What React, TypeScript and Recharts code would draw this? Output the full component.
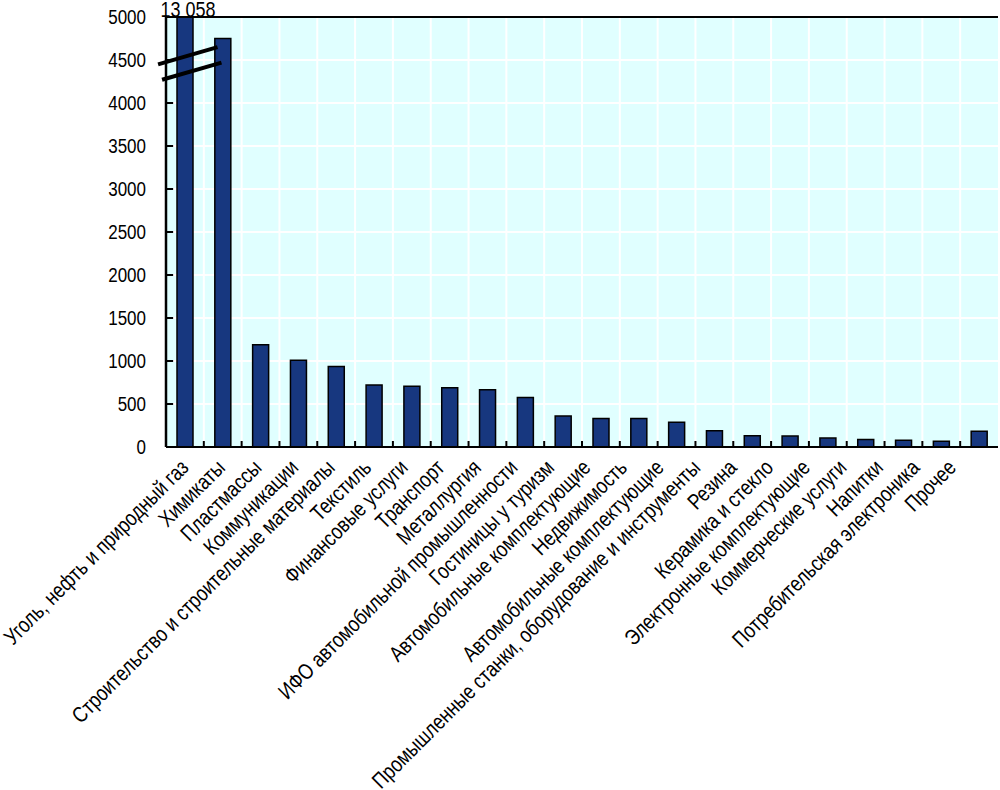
import React from "react";
import {
  BarChart,
  Bar,
  XAxis,
  YAxis,
  CartesianGrid,
  ReferenceLine,
  LabelList,
} from "recharts";

const categories = [
  "Уголь, нефть и природный газ",
  "Химикаты",
  "Пластмассы",
  "Коммуникации",
  "Строительство и строительные материалы",
  "Текстиль",
  "Финансовые услуги",
  "Транспорт",
  "Металлургия",
  "ИФО автомобильной промышленности",
  "Гостиницы у туризм",
  "Автомобильные комплектующие",
  "Недвижимость",
  "Автомобильные комплектующие ",
  "Промышленные станки, оборудование и инструменты",
  "Резина",
  "Керамика и стекло",
  "Электронные комплектующие",
  "Коммерческие услуги",
  "Напитки",
  "Потребительская электроника",
  "Прочее",
];

const values = [
  13058, 4750, 1190, 1010, 935, 720, 705, 690, 665, 575, 360, 330, 330, 287,
  190, 132, 127, 104, 86, 78, 66, 182,
];

const yTicks = [0, 500, 1000, 1500, 2000, 2500, 3000, 3500, 4000, 4500, 5000];
const axisMax = 5000;

// axis-break marks, in data units (band index, value)
const breakMarks = [
  [
    { x: -0.2, y: 4450 },
    { x: 1.3, y: 4650 },
  ],
  [
    { x: -0.1, y: 4270 },
    { x: 1.4, y: 4470 },
  ],
];

const data = categories.map((name, i) => ({
  name,
  value: Math.min(values[i], axisMax),
  raw: values[i],
}));

const FONT = "'Liberation Sans', Arial, Helvetica, sans-serif";
const VSTRETCH = 1.22;
const Y_TICK_LEN = 0.18; // inside tick length, in category bands

const XTick = (props: any) => {
  const { x, y, payload, index } = props;
  const half = typeof payload?.offset === "number" ? payload.offset : 0;
  const ax = x + 5 - index * 1.27;
  const ay = y + 22;
  return (
    <g>
      {half > 0 && index > 0 ? (
        <line
          x1={x - half}
          x2={x - half}
          y1={y}
          y2={y - 6}
          stroke="#000"
          strokeWidth={2}
        />
      ) : null}
      <text
        transform={`translate(${ax}, ${ay}) rotate(-45) scale(1, ${VSTRETCH})`}
        textAnchor="end"
        fontSize={18}
        fontFamily={FONT}
        fill="#000"
      >
        {String(payload.value).trim()}
      </text>
    </g>
  );
};

const YTick = (props: any) => {
  const { x, y, payload } = props;
  return (
    <text
      transform={`translate(${x}, ${y}) scale(1, ${VSTRETCH})`}
      textAnchor="end"
      dy="0.36em"
      fontSize={17}
      fontFamily={FONT}
      fill="#000"
    >
      {payload.value}
    </text>
  );
};

const formatBig = (v: number) =>
  String(v).replace(/\B(?=(\d{3})+(?!\d))/g, " ");

const TopLabel = (props: any) => {
  const { x, y, width, index } = props;
  const raw = values[index];
  if (raw <= axisMax) return null;
  const cx = x + width / 2 + 3;
  return (
    <text
      transform={`translate(${cx}, ${y}) scale(1, ${VSTRETCH})`}
      textAnchor="middle"
      fontSize={18}
      fontFamily={FONT}
      fill="#000"
    >
      {formatBig(raw)}
    </text>
  );
};

const boundaryGen = ({ offset }: any) =>
  categories
    .map((_, i) => offset.left + (i * offset.width) / categories.length)
    .slice(1);

export default function App() {
  return (
    <div style={{ position: "absolute", left: 0, top: 0 }}>
      <BarChart
        width={1000}
        height={790}
        data={data}
        margin={{ top: 17, right: 2, left: 0, bottom: 0 }}
      >
        <CartesianGrid
          fill="#e0ffff"
          stroke="#ffffff"
          strokeWidth={2}
          verticalCoordinatesGenerator={boundaryGen}
        />
        <XAxis
          xAxisId="b"
          type="number"
          domain={[0, categories.length]}
          tick={false}
          tickLine={false}
          axisLine={false}
          height={0}
          allowDataOverflow
        />
        <XAxis
          dataKey="name"
          interval={0}
          height={343}
          tickSize={0}
          tickMargin={0}
          tickLine={false}
          axisLine={{ stroke: "#000", strokeWidth: 2 }}
          tick={<XTick />}
        />
        <YAxis
          width={166}
          domain={[0, axisMax]}
          ticks={yTicks}
          interval={0}
          tickSize={0}
          tickMargin={20}
          tickLine={false}
          axisLine={{ stroke: "#000", strokeWidth: 2.5 }}
          tick={<YTick />}
        />
        <Bar
          dataKey="value"
          fill="#17377f"
          stroke="#000"
          strokeWidth={1.5}
          barSize={16}
          isAnimationActive={false}
        >
          <LabelList dataKey="value" content={<TopLabel />} />
        </Bar>
        {yTicks.map((v) => (
          <ReferenceLine
            key={`yt${v}`}
            xAxisId="b"
            segment={[
              { x: 0.01, y: v },
              { x: Y_TICK_LEN, y: v + 0.5 },
            ]}
            stroke="#000"
            strokeWidth={2}
            ifOverflow="visible"
          />
        ))}
        <ReferenceLine y={axisMax} stroke="#000" strokeWidth={2} />
        <ReferenceLine
          xAxisId="b"
          x={categories.length}
          stroke="#000"
          strokeWidth={2}
        />
        {breakMarks.map((seg, i) => (
          <ReferenceLine
            key={i}
            xAxisId="b"
            segment={seg}
            stroke="#000"
            strokeWidth={4}
            ifOverflow="visible"
          />
        ))}
      </BarChart>
    </div>
  );
}
